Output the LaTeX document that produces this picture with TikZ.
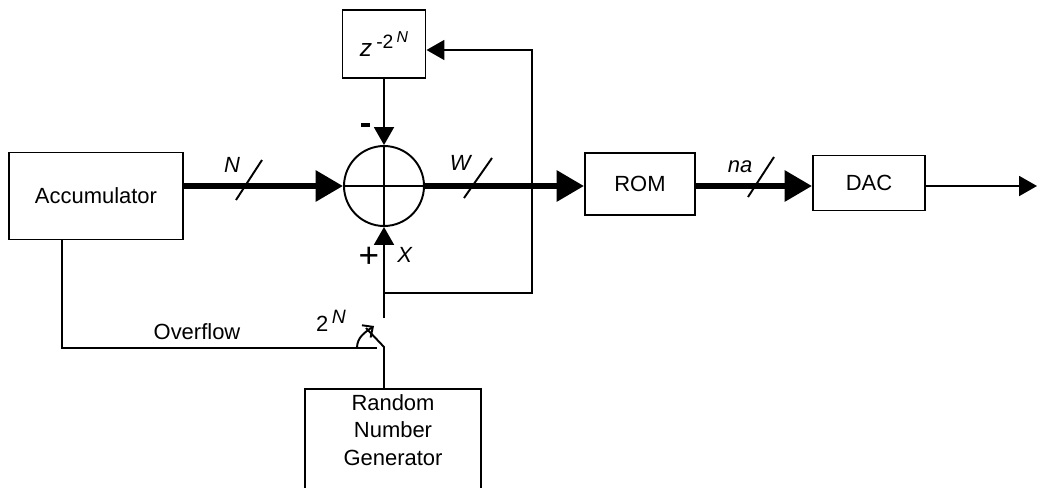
\documentclass[tikz,border=0pt]{standalone}
\usepackage{fontspec}
\setmainfont{Liberation Sans}
\usetikzlibrary{arrows.meta, positioning}

\begin{document}
\begin{tikzpicture}[x=0.02cm, y=-0.02cm,
  font=\fontsize{12.5}{15.5}\selectfont,
  blk/.style={draw, line width=1.1pt, inner sep=0pt},
  bus/.style={line width=3.6pt, -{Triangle[length=0.55cm, width=0.6cm]}},
  sig/.style={line width=1.1pt, -{Triangle[length=0.36cm, width=0.4cm]}},
  wire/.style={line width=1.1pt},
  slash/.style={line width=1.1pt}]

% --- frame ---
\clip (0,0) rectangle (1037,487);

% --- blocks ---
\node[blk, minimum width=3.48cm, minimum height=1.74cm] (acc) at (96,196) {Accumulator};
\node[draw, circle, line width=1.1pt, minimum size=1.6cm, inner sep=0pt] (sum) at (384,186) {};
\draw[wire] (sum.north) -- (sum.south) (sum.west) -- (sum.east);
\node[blk, minimum width=1.66cm, minimum height=1.36cm] (zdel) at (384,44)
  {\fontsize{14}{14}\selectfont\textit{z}\,\raisebox{0.55ex}{\fontsize{11}{11}\selectfont -2\,\raisebox{0.6ex}{\fontsize{9}{9}\selectfont\textit{N}}}};
\node[blk, minimum width=2.2cm, minimum height=1.24cm] (rom) at (640,184) {ROM};
\node[blk, minimum width=2.24cm, minimum height=1.1cm] (dac) at (869,183) {DAC};
\node[blk, minimum width=3.52cm, minimum height=2.4cm, anchor=north] (rng) at (393,388) {};
\node[align=center] (rnglbl) at (393,430) {Random\\Number\\Generator};

% --- junctions ---
\coordinate (fbtop) at (532,50);
\coordinate (fbbot) at (532,293);
\coordinate (sw) at (384,318);
\coordinate (swb) at (384,347);
\coordinate (blade) at (366,328);
\coordinate (ovf) at (377,348);
\coordinate (ovfa) at ([xshift=-0.68cm]acc.south);
\coordinate (out) at (1037,186);

% --- data path ---
\draw[bus] (acc.east |- sum.west) -- (sum.west);
\draw[bus] (sum.east) -- (rom.west |- sum.east);
\draw[bus] (rom.east |- sum.east) -- (dac.west |- sum.east);
\draw[sig] (dac.east |- sum.east) -- (out);

% --- feedback ---
\draw[sig] (zdel.south) -- (sum.north);
\draw[sig] (sw |- fbbot) -- (fbbot) -- (fbtop) -- (zdel.east |- fbtop);
\draw[sig] (sw) -- (sum.south);

% --- overflow switch ---
\draw[wire] (ovfa) |- (ovf);
\draw[wire] (swb |- rng.north) -- (swb) -- (blade);
\draw[wire, -{Straight Barb[length=0.16cm, width=0.3cm]}] (357,348) to[out=90, in=215] (374,326);

% --- labels ---
\node (lblN) at (232,165) {\textit{N}};
\draw[slash] (236,200) -- (262,160);
\node (lblW) at (461,163) {\textit{W}};
\draw[slash] (464,198) -- (492,158);
\node (lblna) at (740,167) {\textit{na}};
\draw[slash] (748,197) -- (774,157);
\draw[line width=2.4pt] (361,125) -- (370,125);
\node[font=\fontsize{20}{22}\selectfont] (plus) at (369,257) {+};
\node (lblX) at (405,255) {\textit{X}};
\node (lblovf) at (197,332) {Overflow};
\node (lbl2N) at (331,321) {2\,\raisebox{0.7ex}{\fontsize{11}{11}\selectfont\textit{N}}};

\end{tikzpicture}
\end{document}
